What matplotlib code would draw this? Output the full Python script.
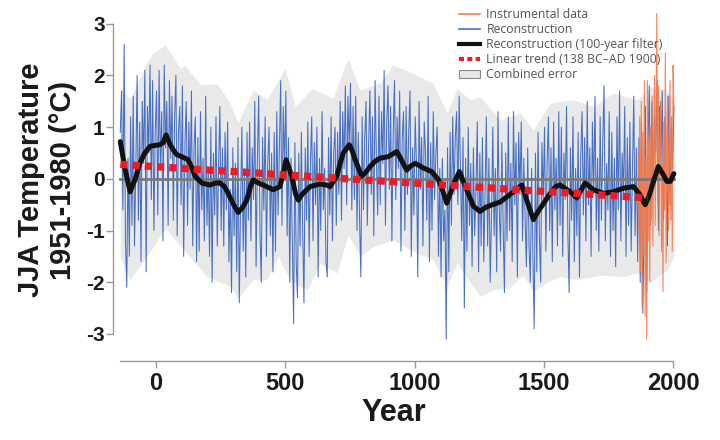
import numpy as np
import matplotlib
matplotlib.use('Agg')
import matplotlib.pyplot as plt
from matplotlib.lines import Line2D
from matplotlib.patches import Patch
plt.rcParams['axes.unicode_minus'] = False

# annual reconstruction, read every 5 years starting 138 BC
recon_vals = [
    0.9, 1.7, -0.6, 2.6, -1.2, -2.1, 0.4, -1.5, 1.2, -0.9, 1.6, -1.3, 0.2, 2.0, -0.8, 1.1, -1.6, 1.5, 0.3, 2.1,
    -1.8, 1.4, 0.5, 2.2, -0.4, 1.9, -1.0, 0.9, 1.7, -0.7, 2.1, 0.2, 1.3, -1.2, 2.2, 0.6, 1.5, -0.9, 1.9, 0.4,
    1.6, -0.8, 1.2, 2.0, -1.1, 0.9, 1.4, -0.5, 1.8, -1.5, 0.7, 1.5, -0.9, 1.1, -0.2, 1.7, -1.3, 0.6, 1.2, -1.6,
    0.8, -1.4, 1.3, -0.6, 0.4, -1.2, 1.6, -0.9, 0.2, -1.5, 1.0, -2.0, 0.5, -0.7, 1.2, -1.3, 0.3, 1.4, -1.0, 0.6,
    -1.3, 0.9, -0.6, 1.1, -1.6, -0.2, -2.2, 0.6, -1.1, 0.3, -1.8, 0.8, -2.4, -0.5, 1.0, -1.4, 0.2, -1.9, 0.9, -0.8,
    1.1, -1.2, 0.6, -0.4, 1.5, -1.7, 0.4, 1.6, -1.0, -2.0, 0.8, -0.6, 1.2, -1.5, 0.3, 1.0, -1.1, 0.5, -1.8, 0.9,
    -1.4, 1.3, -0.7, 0.6, 1.9, -0.9, 1.4, 0.2, 1.7, -1.1, 0.8, -2.0, 0.4, -1.2, -2.8, 0.7, -1.6, -2.3, 0.5, -1.3,
    0.9, -1.0, -2.4, 0.6, -0.8, 1.1, -1.5, 0.3, 1.2, -1.2, 0.7, -0.5, 1.0, -1.9, 0.4, -1.0, 1.3, -0.6, 0.2, -1.6,
    -1.9, 0.8, -0.7, 1.2, -1.2, 0.5, 1.0, -0.9, 0.9, -0.3, 1.5, -0.8, 1.3, 0.2, 1.8, -0.5, 1.6, 0.6, 1.85, -0.6,
    1.4, -0.4, 1.6, -1.0, 0.9, -0.8, -1.9, 1.2, -0.6, 0.8, 1.5, -0.9, 0.7, 1.7, -0.3, 1.2, -1.1, 1.9, 0.4, -0.7,
    1.6, -0.5, 1.3, 0.3, 2.1, -0.9, 1.1, 1.8, -0.2, 1.4, -1.2, 0.9, 1.9, -0.4, 1.2, 0.2, 1.7, -1.4, 0.8, 1.3,
    -1.0, 1.4, -0.3, 0.9, 1.7, -1.5, 0.6, -0.7, 1.2, 0.3, -1.9, 1.5, -0.2, 0.8, -1.3, 1.1, 0.5, -0.8, 1.6, -1.6,
    0.7, -1.0, 1.3, -0.4, 0.5, 1.0, -1.5, 0.2, -1.9, 0.4, -1.2, -0.6, -3.1, 0.6, -1.8, 0.9, -0.9, 1.2, -0.3, 0.8,
    1.3, -0.5, 1.6, 0.2, -1.2, 0.8, -2.5, 0.4, -1.4, 1.0, -0.9, 0.3, -1.7, 0.6, -1.1, -0.2, 1.1, -1.8, 0.5, -1.3,
    0.8, -1.6, -0.3, 1.2, -1.3, 0.4, -2.0, -0.7, 1.0, -1.1, 0.2, -1.8, 1.3, -0.6, -1.4, 0.7, -0.9, -2.2, 0.5, -1.2,
    1.2, -1.0, 0.3, -1.6, 1.3, -0.5, 0.7, -1.9, 0.9, -0.3, 1.1, -1.2, 0.4, -0.8, -1.7, 0.6, -1.3, -2.0, 0.2, -1.5,
    -2.9, 0.5, -1.8, 0.9, -1.1, -2.0, 0.7, -0.4, 1.0, -1.4, 0.3, 1.2, -1.0, 0.6, -1.6, 1.1, -0.6, 0.4, -1.3, 1.3,
    -0.9, 1.0, -1.5, 0.5, -0.4, 1.4, -1.0, -2.2, 0.6, -0.8, 1.2, -1.6, 0.2, -1.1, 0.9, -1.9, 0.4, 1.3, -0.7, 0.8,
    -1.2, 1.5, -0.5, 0.6, -1.5, 1.1, -0.3, 1.6, -1.0, 0.4, -1.4, 1.2, -0.8, 0.7, 1.8, -1.2, 0.3, -0.6, 1.3, -1.5,
    0.9, -1.0, 0.4, -1.7, 1.2, -0.6, 1.7, -1.2, 0.5, -0.3, 1.4, -1.5, 0.8, -0.9, 1.1, -1.4, 0.2, 1.6, -1.1, 0.6,
    -1.6, 0.8, -2.0, 1.1, -2.6, -0.8, 1.4, -2.2, 0.6, 1.8, -0.9, 1.5, -0.2, 1.2, 0.5, 1.9, -1.0, 1.4, 0.3, 1.7,
    -0.8, 1.2, 0.4, -1.3, 1.6, -0.5, 1.0, 0.2, 1.4,
]
recon_years = -138 + 5 * np.arange(len(recon_vals))

# instrumental record, every 3 years from 1864
inst_vals = [
    0.5, -1.0, 1.2, -1.8, 1.5, -2.5, 0.9, -1.5, 1.9, -2.66, 0.4, -3.1, 1.9, -1.2, 0.8, -2.0,
    1.0, -0.8, 1.6, -1.3, 0.6, 2.0, -0.9, 1.4, 3.2, -0.5, 1.8, -1.1, 0.7, 1.5, -1.4, 0.3,
    -2.18, 1.1, -0.6, 2.43, -1.63, 0.9, 1.6, -1.0, 0.5, 1.9, -0.8, 1.2, -1.4, 2.2, 1.3,
]
inst_years = 1864 + 3 * np.arange(len(inst_vals))

# 100-year filtered reconstruction
filt_years = [-138, -120, -100, -80, -62, -43, -23, 0, 15, 28, 39, 55, 67, 80, 99, 124, 140, 151, 177,
              209, 230, 247, 265, 279, 300, 318, 335, 351, 365, 376, 395, 415, 453, 479, 492, 503, 515,
              525, 540, 550, 565, 583, 596, 634, 660, 673, 699, 712, 724, 747, 758, 770, 795, 810, 828,
              845, 866, 898, 915, 931, 945, 969, 985, 1002, 1034, 1066, 1092, 1110, 1124, 1140, 1152,
              1173, 1188, 1201, 1227, 1253, 1275, 1300, 1330, 1369, 1395, 1414, 1433, 1459, 1475, 1491,
              1524, 1545, 1562, 1580, 1601, 1627, 1645, 1659, 1691, 1730, 1768, 1807, 1846, 1870, 1891,
              1905, 1923, 1942, 1961, 1975, 1988, 2002]
filt_vals = [0.72, 0.2, -0.25, 0.0, 0.31, 0.5, 0.63, 0.65, 0.66, 0.7, 0.85, 0.66, 0.56, 0.47, 0.43, 0.37,
             0.2, 0.05, -0.08, -0.12, -0.08, -0.08, -0.15, -0.28, -0.5, -0.65, -0.55, -0.41, -0.15,
             -0.02, -0.08, -0.12, -0.21, -0.15, 0.1, 0.37, 0.2, 0.05, -0.3, -0.41, -0.3, -0.21, -0.15,
             -0.1, -0.12, -0.15, 0.05, 0.3, 0.5, 0.66, 0.55, 0.37, 0.05, 0.12, 0.24, 0.33, 0.4, 0.43,
             0.48, 0.53, 0.4, 0.17, 0.25, 0.3, 0.21, 0.14, -0.02, -0.25, -0.47, -0.25, -0.08, 0.14,
             -0.05, -0.21, -0.53, -0.63, -0.55, -0.5, -0.45, -0.3, -0.2, -0.12, -0.41, -0.79, -0.65,
             -0.53, -0.28, -0.15, -0.12, -0.18, -0.25, -0.37, -0.2, -0.08, -0.21, -0.28, -0.25, -0.18,
             -0.15, -0.3, -0.5, -0.35, -0.05, 0.24, 0.08, -0.05, -0.05, 0.1]

# linear trend 138 BC - AD 1900
trend_years = [-138, 1900]
trend_vals = [0.28, -0.37]

# combined error envelope
err_up_years = [-138, -100, -40, -12, 35, 93, 112, 170, 236, 286, 317, 375, 429, 499, 538, 603, 684,
                742, 789, 866, 916, 982, 1071, 1125, 1164, 1214, 1253, 1330, 1408, 1458, 1524, 1613,
                1690, 1767, 1860, 1911, 1976, 2003]
err_up_vals = [1.75, 1.55, 2.2, 2.43, 2.59, 2.14, 2.2, 1.82, 1.84, 1.47, 1.08, 1.72, 1.53, 2.14, 1.4,
               1.75, 1.56, 2.33, 1.72, 1.85, 2.2, 2.07, 1.85, 1.27, 1.75, 1.53, 1.59, 1.14, 1.27, 0.95,
               1.47, 1.53, 1.4, 1.66, 1.53, 1.78, 1.72, 1.5]
err_lo_years = [-138, -101, -35, 35, 120, 197, 286, 317, 375, 429, 472, 518, 584, 634, 700, 742, 789,
                839, 916, 1009, 1071, 1125, 1164, 1214, 1253, 1303, 1369, 1419, 1458, 1512, 1562, 1628,
                1717, 1806, 1860, 1911, 1976, 2003]
err_lo_vals = [-1.5, -1.95, -1.5, -0.95, -1.44, -1.89, -2.08, -2.3, -1.95, -1.95, -1.5, -1.95, -2.15,
               -1.63, -1.82, -1.08, -1.5, -1.31, -1.18, -1.44, -1.57, -2.08, -1.63, -2.0, -2.27, -2.15,
               -2.1, -1.86, -2.18, -2.0, -1.89, -1.95, -1.86, -1.89, -1.82, -2.0, -1.76, -1.5]

fig = plt.figure(figsize=(7.2, 4.4), dpi=100)
ax = fig.add_axes([0.157, 0.18, 0.789, 0.82])

grid_x = np.union1d(err_up_years, err_lo_years)
up_i = np.interp(grid_x, err_up_years, err_up_vals)
lo_i = np.interp(grid_x, err_lo_years, err_lo_vals)
ax.fill_between(grid_x, lo_i, up_i, color='#e9e9e9', lw=0, zorder=1)

ax.plot(recon_years, recon_vals, color='#3d68c0', lw=0.75, alpha=0.95, zorder=2)
ax.plot(inst_years, inst_vals, color='#f47a4a', lw=0.8, alpha=0.9, zorder=3)
ax.plot([-138, 2003], [0, 0], color='#7a7a7a', lw=2, zorder=4)
ax.plot(filt_years, filt_vals, color='#111111', lw=3.6, solid_capstyle='round',
        solid_joinstyle='round', zorder=5)
ax.plot(trend_years, trend_vals, color='#ee1c25', lw=5.2, dashes=(1, 0.7),
        dash_capstyle='butt', zorder=6)

ax.set_xlim(-166, 2030)
ax.set_ylim(-3.52, 3.46)
for s in ['top', 'right']:
    ax.spines[s].set_visible(False)
ax.spines['left'].set_bounds(-3, 3)
ax.spines['bottom'].set_bounds(-138, 2000)
for s in ['left', 'bottom']:
    ax.spines[s].set_color('#999999')
    ax.spines[s].set_linewidth(1)
ax.set_xticks([0, 500, 1000, 1500, 2000])
ax.set_yticks([-3, -2, -1, 0, 1, 2, 3])
ax.tick_params(length=5, width=1, color='#999999', labelcolor='#1a1a1a')
ax.tick_params(axis='y', pad=1)
ax.tick_params(axis='x', pad=3)
for lab in ax.get_xticklabels():
    lab.set_fontfamily('Liberation Sans')
    lab.set_fontweight('bold')
    lab.set_fontsize(17)
for lab in ax.get_yticklabels():
    lab.set_fontfamily('Liberation Sans')
    lab.set_fontweight('bold')
    lab.set_fontsize(15)

fig.text(47 / 720, 1 - 180 / 440, 'JJA Temperature\n1951-1980 (°C)', rotation=90,
         ha='center', va='center', multialignment='center', linespacing=1.2,
         fontfamily='Liberation Sans', fontweight='bold', fontsize=21, color='#1a1a1a')
fig.text(394 / 720, 1 - 413 / 440, 'Year', ha='center', va='center',
         fontfamily='Liberation Sans', fontweight='bold', fontsize=22, color='#1a1a1a')

handles = [
    Line2D([], [], color='#f47a4a', lw=1.2),
    Line2D([], [], color='#4470c4', lw=1.2),
    Line2D([], [], color='#111111', lw=3),
    Line2D([], [], color='#ee1c25', lw=3, dashes=(1.2, 0.8)),
    Patch(facecolor='#e6e6e6', edgecolor='#888888', lw=0.8),
]
labels = ['Instrumental data', 'Reconstruction', 'Reconstruction (100-year filter)',
          'Linear trend (138 BC\u2013AD 1900)', 'Combined error']
leg = fig.legend(handles, labels, loc='upper left', bbox_to_anchor=(459 / 720, 1 - 8 / 440),
                 frameon=False, prop={'family': 'Open Sans', 'size': 8.8}, handlelength=1.7,
                 handletextpad=0.55, labelspacing=0.17, borderpad=0, borderaxespad=0)
for t in leg.get_texts():
    t.set_color('#555555')

fig.savefig('out.png', dpi=100)
